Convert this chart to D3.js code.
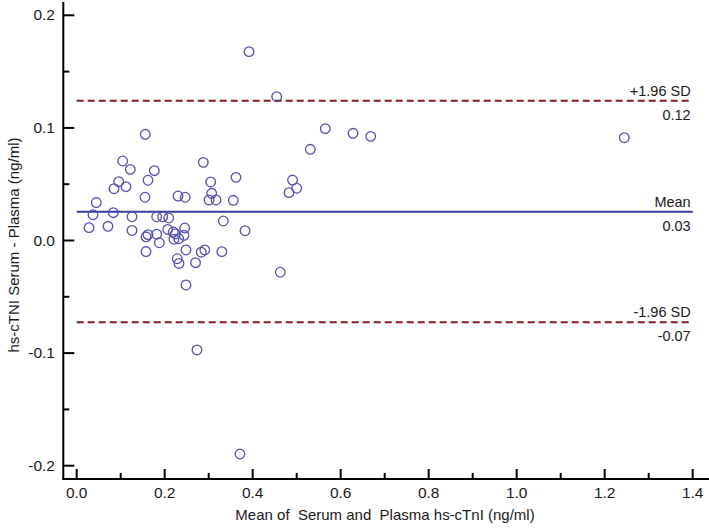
<!DOCTYPE html>
<html><head><meta charset="utf-8">
<script src="https://cdn.jsdelivr.net/npm/d3@7"></script>
<style>body{margin:0;background:#fff}svg{display:block}text{font-family:"Liberation Sans",Arial,sans-serif;fill:#1a1a1a}</style>
</head><body><svg id="c" width="709" height="529"></svg>
<script>
// Means (x) and differences (y)
const meanVals = [0.1045,0.1218,0.1764,0.2877,0.0955,0.0848,0.1120,0.1620,0.3045,0.3620,
 0.1552,0.2302,0.2468,0.3068,0.3007,0.3166,0.3559,0.0445,0.0370,0.0832,
 0.1257,0.1818,0.1955,0.2091,0.3332,0.0280,0.0711,0.1257,0.1575,0.1620,
 0.1818,0.1877,0.2068,0.2195,0.2241,0.2211,0.2318,0.2455,0.2439,0.3825,
 0.1575,0.2484,0.2286,0.2325,0.2700,0.2830,0.2911,0.3298,0.2484,0.1559,
 0.3916,0.4545,0.5650,0.6280,0.6682,0.5309,0.4905,0.5000,0.4825,0.4627,
 1.2445,0.2734,0.3710];
const diffVals = [0.0706,0.0632,0.0620,0.0694,0.0522,0.0460,0.0478,0.0535,0.0520,0.0561,
 0.0384,0.0395,0.0384,0.0419,0.0360,0.0360,0.0357,0.0337,0.0229,0.0247,
 0.0211,0.0211,0.0211,0.0200,0.0173,0.0114,0.0126,0.0089,0.0033,0.0052,
 0.0056,-0.0020,0.0098,0.0075,0.0058,0.0011,0.0016,0.0111,0.0046,0.0087,
 -0.0098,-0.0084,-0.0162,-0.0204,-0.0197,-0.0104,-0.0084,-0.0099,-0.0395,0.0943,
 0.1677,0.1277,0.0993,0.0952,0.0925,0.0810,0.0537,0.0464,0.0425,-0.0282,
 0.0913,-0.0972,-0.1896];
const refValues = [0.1242, 0.0256, -0.0727];
const refTop = ["+1.96 SD", "Mean", "-1.96 SD"];
const refBottom = ["0.12", "0.03", "-0.07"];
const refKind = ["sd", "mean", "sd"];
const xTicks = [0,0.2,0.4,0.6,0.8,1.0,1.2,1.4];
const yTicks = [0.2,0.1,0.0,-0.1,-0.2];
const xTitle = "Mean of  Serum and  Plasma hs-cTnI (ng/ml)";
const yTitle = "hs-cTNI Serum - Plasma (ng/ml)";

const svg = d3.select("#c");
const x = d3.scaleLinear().domain([0,1.4]).range([76.7,692.7]);
const y = d3.scaleLinear().domain([-0.2,0.2]).range([465.7,15.3]);
const axisX = 63.3, axisY = 479;

// axes lines
svg.append("line").attr("x1",axisX).attr("x2",axisX).attr("y1",2).attr("y2",axisY+1)
  .attr("stroke","#000").attr("stroke-width",2);
svg.append("line").attr("x1",axisX-1).attr("x2",709).attr("y1",axisY).attr("y2",axisY)
  .attr("stroke","#000").attr("stroke-width",2);

// x ticks (inward)
const xMinor = d3.range(0,15).map(i=>i/10);
svg.append("g").selectAll("line").data(xMinor).join("line")
  .attr("x1",d=>x(d)).attr("x2",d=>x(d))
  .attr("y1",axisY).attr("y2",(d,i)=> i%2===0 ? axisY-10 : axisY-6)
  .attr("stroke","#000").attr("stroke-width",2);
svg.append("g").selectAll("text").data(xTicks).join("text")
  .attr("x",d=>x(d)).attr("y",498).attr("text-anchor","middle")
  .attr("font-size",15.5).text(d=>d.toFixed(1));

// y ticks
const yMinor = d3.range(-4,5).map(i=>i/20);
svg.append("g").selectAll("line").data(yMinor).join("line")
  .attr("y1",d=>y(d)).attr("y2",d=>y(d))
  .attr("x1",axisX).attr("x2",(d,i)=> i%2===0 ? axisX+11 : axisX+6)
  .attr("stroke","#000").attr("stroke-width",2);
svg.append("g").selectAll("text").data(yTicks).join("text")
  .attr("x",55).attr("y",d=>y(d)+5).attr("text-anchor","end")
  .attr("font-size",15.5).text(d=>d.toFixed(1));

// titles
svg.append("text").attr("x",385).attr("y",520).attr("text-anchor","middle")
  .attr("font-size",15).style("white-space","pre").text(xTitle);
svg.append("text").attr("transform","translate(19,245) rotate(-90)")
  .attr("text-anchor","middle").attr("font-size",15).text(yTitle);

// reference lines
refValues.forEach((v,i)=>{
  const ln = svg.append("line").attr("x1",x(0)).attr("x2",x(1.4))
    .attr("y1",y(v)).attr("y2",y(v)).attr("stroke-width",2);
  if(refKind[i]==="sd"){ ln.attr("stroke","#8b1a1a").attr("stroke-dasharray","7,4"); }
  else { ln.attr("stroke","#3a3aa0"); }
  svg.append("text").attr("x",x(1.4)-2).attr("y",y(v)-5).attr("text-anchor","end")
    .attr("font-size",14.5).text(refTop[i]);
  svg.append("text").attr("x",x(1.4)-2).attr("y",y(v)+19).attr("text-anchor","end")
    .attr("font-size",14.5).text(refBottom[i]);
});

// points
svg.append("g").selectAll("circle").data(meanVals).join("circle")
  .attr("cx",d=>x(d)).attr("cy",(d,i)=>y(diffVals[i])).attr("r",4.8)
  .attr("fill","none").attr("stroke","#5252b0").attr("stroke-width",1.3);
</script></body></html>
